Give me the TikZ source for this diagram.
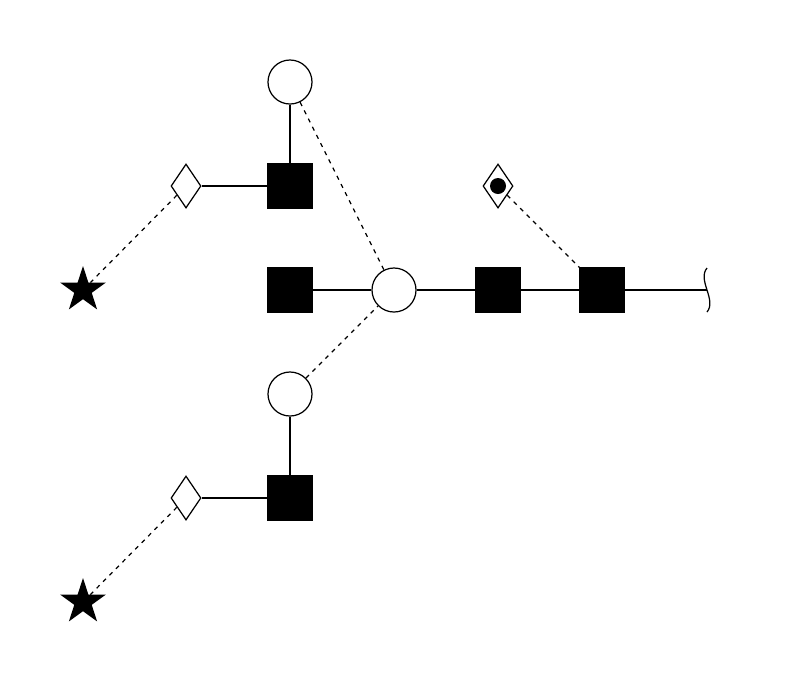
\documentclass[tikz,border=0pt]{standalone}
\usetikzlibrary{shapes.geometric}
\begin{document}
\begin{tikzpicture}[x=0.01cm,y=-0.01cm,
  line width=0.35pt,
  sq/.style={draw,fill=black,rectangle,minimum size=0.44cm,inner sep=0pt},
  circ/.style={draw,fill=white,circle,minimum size=0.44cm,inner sep=0pt},
  dia/.style={draw,fill=white,diamond,minimum width=0.30cm,minimum height=0.44cm,inner sep=0pt},
  st/.style={draw,fill=black,star,star points=5,star point ratio=2.618,minimum size=0.44cm,inner sep=0pt},
  dsh/.style={dashed,dash pattern=on 1.2pt off 1.4pt}]
\useasboundingbox (0,0) rectangle (788,684);
\node[circ] (c1) at (290,82) {};
\node[sq] (s1) at (290,186) {};
\node[dia] (d1) at (186,186) {};
\node[st] (st1) at (83,290) {};
\node[sq] (s2) at (290,290) {};
\node[circ] (c2) at (394,290) {};
\node[sq] (s3) at (498,290) {};
\node[sq] (s4) at (602,290) {};
\node[dia] (dd) at (498,186) {};
\fill (498,186) circle (0.08cm);
\coordinate (e) at (707,290);
\node[circ] (c3) at (290,394) {};
\node[sq] (s5) at (290,498) {};
\node[dia] (d2) at (186,498) {};
\node[st] (st2) at (83,602) {};
\draw (c1) -- (s1);
\draw (d1) -- (s1);
\draw (s2) -- (c2);
\draw (c2) -- (s3);
\draw (s3) -- (s4);
\draw (s4) -- (e);
\draw (707,268) .. controls (697,280) and (717,300) .. (707,312);
\draw (c3) -- (s5);
\draw (d2) -- (s5);
\draw[dsh] (c1) -- (c2);
\draw[dsh] (d1) -- (st1);
\draw[dsh] (c3) -- (c2);
\draw[dsh] (dd) -- (s4);
\draw[dsh] (d2) -- (st2);
\end{tikzpicture}
\end{document}
